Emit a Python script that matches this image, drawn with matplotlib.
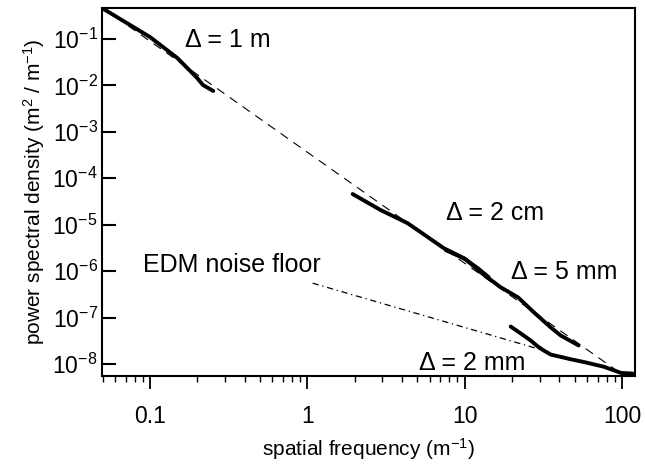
import numpy as np
import matplotlib
matplotlib.use("Agg")
import matplotlib.pyplot as plt
from matplotlib.ticker import LogLocator, NullLocator, FixedLocator, FixedFormatter

plt.rcParams['font.family'] = ['Liberation Sans', 'DejaVu Sans']
plt.rcParams['mathtext.fontset'] = 'custom'
plt.rcParams['mathtext.rm'] = 'Liberation Sans'
plt.rcParams['mathtext.it'] = 'Liberation Sans'

# power-law fit (dashed)
fit_f = [0.05, 100]
fit_p = [0.47, 6e-9]

# delta = 1 m
f_1m = [0.0494, 0.1, 0.149, 0.199, 0.205, 0.217, 0.252]
p_1m = [0.466, 0.110, 0.039, 0.0145, 0.0128, 0.0102, 0.0076]

# delta = 2 cm
f_2cm = [1.94, 2.92, 4.33, 5.25, 7.35, 9.86, 12.1, 14.2]
p_2cm = [4.57e-5, 2.07e-5, 1.08e-5, 6.9e-6, 3.13e-6, 1.9e-6, 1.16e-6, 7.4e-7]

# delta = 5 mm
f_5mm = [7.57, 10.1, 12.6, 16.9, 21.8, 27.5, 35.3, 40.8, 53]
p_5mm = [2.84e-6, 1.82e-6, 9.5e-7, 4.5e-7, 2.73e-7, 1.3e-7, 6.1e-8, 4.1e-8, 2.5e-8]

# delta = 2 mm
f_2mm = [19.6, 22.8, 26.3, 29.2, 31.8, 35.3, 40.8, 47.3, 57.3, 76.8, 98.6, 117]
p_2mm = [6.4e-8, 4.5e-8, 3.19e-8, 2.37e-8, 1.95e-8, 1.59e-8, 1.42e-8, 1.26e-8,
         1.1e-8, 8.7e-9, 6.4e-9, 6.2e-9]

# EDM noise floor (dash-dot)
edm_f = [1.08, 31.8]
edm_p = [5.5e-7, 1.95e-8]

yticks = [1e-1, 1e-2, 1e-3, 1e-4, 1e-5, 1e-6, 1e-7, 1e-8]
ylabels = ['$10^{-1}$', '$10^{-2}$', '$10^{-3}$', '$10^{-4}$',
           '$10^{-5}$', '$10^{-6}$', '$10^{-7}$', '$10^{-8}$']
xticks = [0.1, 1, 10, 100]
xlabels = ['0.1', '1', '10', '100']

fig = plt.figure(figsize=(6.45, 4.70), dpi=100)
ax = fig.add_axes([0.158, 0.2, 0.8265, 0.783])

ax.plot(fit_f, fit_p, color='black', lw=0.8, ls=(0, (8, 6)))
ax.plot(edm_f, edm_p, color='black', lw=0.9, ls=(0, (5, 3, 1, 3)))
for f, p in [(f_1m, p_1m), (f_2cm, p_2cm), (f_5mm, p_5mm), (f_2mm, p_2mm)]:
    ax.plot(f, p, color='black', lw=2.8, solid_capstyle='round', solid_joinstyle='round')

ax.set_xscale('log')
ax.set_yscale('log')
ax.set_xlim(0.0494, 121)
ax.set_ylim(5.5e-9, 0.466)

ax.yaxis.set_major_locator(FixedLocator(yticks))
ax.yaxis.set_major_formatter(FixedFormatter(ylabels))
ax.yaxis.set_minor_locator(NullLocator())
ax.xaxis.set_major_locator(FixedLocator(xticks))
ax.xaxis.set_major_formatter(FixedFormatter(xlabels))
ax.xaxis.set_minor_locator(LogLocator(base=10, subs=np.arange(2, 10)))

ax.tick_params(axis='y', direction='in', length=10, width=1.5, labelsize=16.5, pad=3)
ax.tick_params(axis='x', which='major', direction='out', length=9, width=1.3, labelsize=16.5, pad=12)
ax.tick_params(axis='x', which='minor', direction='out', length=4, width=1.0)
for s in ax.spines.values():
    s.set_linewidth(1.5)

ax.set_xlabel('spatial frequency (m$^{-1}$)', fontsize=15, labelpad=6)
ax.set_ylabel('power spectral density (m$^{2}$ / m$^{-1}$)', fontsize=15, labelpad=4)

ax.text(0.31, 0.095, '\u0394 = 1 m', fontsize=18, ha='center', va='center')
ax.text(15.5, 1.78e-5, '\u0394 = 2 cm', fontsize=18, ha='center', va='center')
ax.text(42.8, 9.5e-7, '\u0394 = 5 mm', fontsize=18, ha='center', va='center')
ax.text(11.2, 1.07e-8, '\u0394 = 2 mm', fontsize=18, ha='center', va='center')
ax.text(0.333, 1.35e-6, 'EDM noise floor', fontsize=18, ha='center', va='center')

fig.savefig('out.png', dpi=100)
